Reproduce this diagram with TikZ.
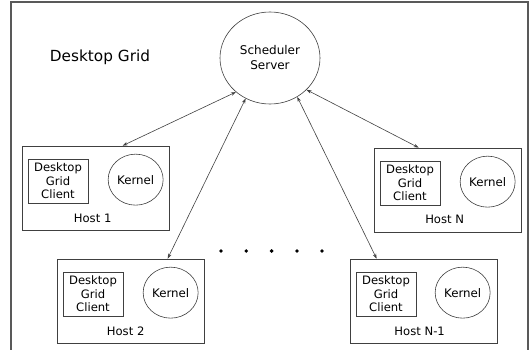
\documentclass[tikz,border=0pt]{standalone}
\usepackage{fontspec}
\setmainfont{DejaVu Sans}
\usetikzlibrary{shapes.geometric,arrows.meta}
\begin{document}
\begin{tikzpicture}[x=1pt,y=-1pt,
  every node/.style={text=black},
  framebox/.style={draw=black!65,line width=1.2pt},
  hostbox/.style={draw=black!75,line width=0.7pt,minimum width=147pt,minimum height=84pt,inner sep=0pt},
  clientbox/.style={draw=black!75,line width=0.7pt,minimum width=60pt,minimum height=44pt,inner sep=0pt,align=center,anchor=north west,font=\fontsize{11.6}{13.6}\selectfont},
  kernelnode/.style={ellipse,draw=black!75,line width=0.6pt,minimum width=55pt,minimum height=51pt,inner sep=0pt,font=\fontsize{11.8}{14}\selectfont},
  hostlabel/.style={inner sep=0pt,font=\fontsize{11.6}{14}\selectfont},
  conn/.style={draw=black!75,line width=0.6pt,{Stealth[length=5pt,width=3.5pt]}-{Stealth[length=5pt,width=3.5pt]}},
  dotnode/.style={circle,fill=black,minimum size=3.8pt,inner sep=0pt}]
\useasboundingbox (0,0) rectangle (530,350);
\draw[framebox] (11,360) -- (11,2) -- (528,2) -- (528,360);

\node[font=\fontsize{15.3}{18}\selectfont] (title) at (100,57) {Desktop Grid};
\node[ellipse,draw=black!75,line width=0.6pt,minimum width=100pt,minimum height=92pt,inner sep=0pt,align=center,font=\fontsize{12}{15}\selectfont] (s) at (270,58) {Scheduler\\Server};

% Host 1
\node[hostbox] (h1) at (95.5,188) {};
\node[clientbox] (c1) at ([shift={(6,13)}]h1.north west) {Desktop\\Grid\\Client};
\node[kernelnode] (k1) at ([shift={(114,34)}]h1.north west) {Kernel};
\node[hostlabel] (l1) at ([shift={(71,73)}]h1.north west) {Host 1};
\coordinate (t1) at ([xshift=101pt]h1.north west);

% Host N
\node[hostbox] (hn) at (447.5,190) {};
\node[clientbox] (cn) at ([shift={(6,13)}]hn.north west) {Desktop\\Grid\\Client};
\node[kernelnode] (kn) at ([shift={(114,34)}]hn.north west) {Kernel};
\node[hostlabel] (ln) at ([shift={(71,72)}]hn.north west) {Host N};
\coordinate (tn) at ([xshift=45pt]hn.north west);

% Host 2
\node[hostbox] (h2) at (130.5,301) {};
\node[clientbox] (c2) at ([shift={(6,13)}]h2.north west) {Desktop\\Grid\\Client};
\node[kernelnode] (k2) at ([shift={(114,34)}]h2.north west) {Kernel};
\node[hostlabel] (l2) at ([shift={(69,73)}]h2.north west) {Host 2};
\coordinate (t2) at ([xshift=111pt]h2.north west);

% Host N-1
\node[hostbox] (hm) at (423.5,301) {};
\node[clientbox] (cm) at ([shift={(6,13)}]hm.north west) {Desktop\\Grid\\Client};
\node[kernelnode] (km) at ([shift={(113,34)}]hm.north west) {Kernel};
\node[hostlabel] (lm) at ([shift={(70,73)}]hm.north west) {Host N-1};
\coordinate (tm) at ([xshift=27pt]hm.north west);

% connectors
\draw[conn] (s.225) -- (t1);
\draw[conn] (s.239) -- (t2);
\draw[conn] (s.305) -- (tm);
\draw[conn] (s.319) -- (tn);

% dots
\node[dotnode] (d1) at (221,251) {};
\node[dotnode] (d2) at (246.3,251) {};
\node[dotnode] (d3) at (271.6,251) {};
\node[dotnode] (d4) at (296.9,251) {};
\node[dotnode] (d5) at (322,251) {};
\end{tikzpicture}
\end{document}
